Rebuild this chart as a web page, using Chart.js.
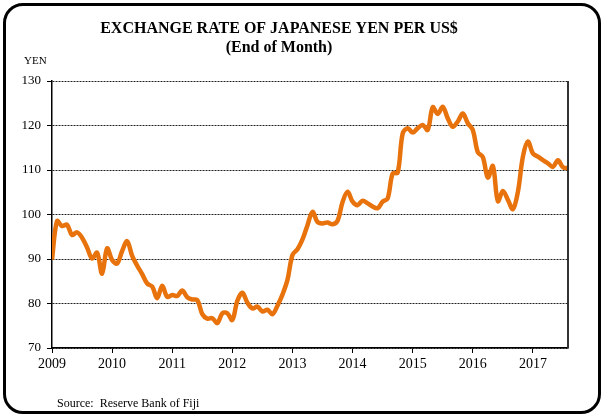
<!DOCTYPE html>
<html>
<head>
<meta charset="utf-8">
<script src="https://cdn.jsdelivr.net/npm/chart.js@4/dist/chart.umd.min.js"></script>
<style>
  html, body { margin: 0; padding: 0; background: #fff; }
  #wrap { position: relative; width: 602px; height: 416px; }
  #myChart { position: absolute; left: 0; top: 0; }
  #frame {
    position: absolute; left: 3px; top: 3px; width: 592px; height: 405px;
    border: 3.5px solid #000; border-radius: 20px; pointer-events: none;
  }
</style>
</head>
<body>
<div id="wrap">
  <canvas id="myChart" width="602" height="416"></canvas>
  <div id="frame"></div>
</div>
<script>
// end of month yen per US$, Jan 2009 - Aug 2017
const yen2009 = [89.9, 98.5, 97.4, 97.7, 95.4, 96.0, 94.8, 92.6, 90.1, 91.4, 86.7, 92.4]
const yen2010 = [89.8, 89.0, 91.8, 94.0, 90.7, 88.5, 86.6, 84.5, 83.8, 81.2, 84.0, 81.5]
const yen2011 = [81.9, 81.7, 82.9, 81.4, 80.9, 80.8, 77.6, 76.6, 76.7, 75.6, 77.8, 77.8]
const yen2012 = [76.3, 80.6, 82.4, 80.2, 78.9, 79.3, 78.2, 78.6, 77.6, 79.5, 82.0, 85.3]
const yen2013 = [90.9, 92.2, 94.4, 97.6, 100.6, 98.3, 98.0, 98.2, 97.8, 98.6, 102.8, 105.1]
const yen2014 = [102.9, 102.1, 103.1, 102.5, 101.8, 101.4, 102.9, 103.6, 109.2, 109.4, 118.2, 119.4]
const yen2015 = [118.4, 119.4, 120.1, 119.0, 124.1, 122.6, 124.2, 121.6, 119.7, 120.9, 122.7, 120.5]
const yen2016 = [119.0, 114.0, 112.9, 108.3, 110.9, 103.0, 105.3, 103.3, 101.2, 105.1, 113.0, 116.4]
const yen2017 = [113.7, 113.0, 112.2, 111.5, 110.7, 112.2, 110.6, 110.4]

const yearLabels = ['2009', '2010', '2011', '2012', '2013', '2014', '2015', '2016', '2017']
const yTicks = [70, 80, 90, 100, 110, 120, 130]

const yen = [].concat(yen2009, yen2010, yen2011, yen2012, yen2013, yen2014, yen2015, yen2016, yen2017)
const points = yen.map((v, i) => ({ x: i, y: v }))

const serif = "'Liberation Serif', 'Times New Roman', serif"

// titles, unit label, source line and the right edge of the plot
const extras = {
  id: 'extras',
  afterDraw(chart) {
    const c = chart.ctx
    const area = chart.chartArea
    c.save()
    c.strokeStyle = '#333'
    c.lineWidth = 2
    c.beginPath()
    c.moveTo(area.right, area.top)
    c.lineTo(area.right, area.bottom)
    c.stroke()

    c.fillStyle = '#000'
    c.textAlign = 'center'
    c.font = 'bold 16px ' + serif
    c.fillText('EXCHANGE RATE OF JAPANESE YEN PER US$', 279, 33)
    c.fillText('(End of Month)', 279, 52)

    c.textAlign = 'left'
    c.font = '11px ' + serif
    c.fillText('YEN', 24, 64)
    c.font = '12px ' + serif
    c.fillText('Source:  Reserve Bank of Fiji', 57, 407)
    c.restore()
  }
}

const ctx = document.getElementById('myChart')

new Chart(ctx, {
  type: 'line',
  data: {
    datasets: [{
      data: points,
      borderColor: '#E8720C',
      borderWidth: 4.5,
      pointRadius: 0,
      tension: 0.35,
      fill: false
    }]
  },
  options: {
    responsive: false,
    animation: false,
    layout: { padding: { left: 0, right: 34, top: 81, bottom: 0 } },
    plugins: { legend: { display: false }, tooltip: { enabled: false } },
    scales: {
      x: {
        type: 'linear',
        min: 0,
        max: 103,
        afterFit: (s) => { s.height = 68 },
        grid: { drawOnChartArea: false, drawTicks: true, tickLength: 5, tickColor: '#000' },
        border: { color: '#000', width: 1.5 },
        ticks: {
          stepSize: 12,
          includeBounds: false,
          autoSkip: false,
          maxRotation: 0,
          padding: 3,
          color: '#000',
          font: { family: serif, size: 14 },
          callback: (v) => yearLabels[v / 12]
        }
      },
      y: {
        min: 70,
        max: 130,
        afterFit: (s) => { s.width = 52 },
        afterBuildTicks: (s) => { s.ticks = yTicks.map(v => ({ value: v })) },
        grid: { color: '#222', lineWidth: 1, tickLength: 5, tickColor: '#000' },
        border: { color: '#000', width: 1.5, dash: [2, 1] },
        ticks: {
          padding: 6,
          color: '#000',
          font: { family: serif, size: 13 }
        }
      }
    }
  },
  plugins: [extras]
})
</script>
</body>
</html>
